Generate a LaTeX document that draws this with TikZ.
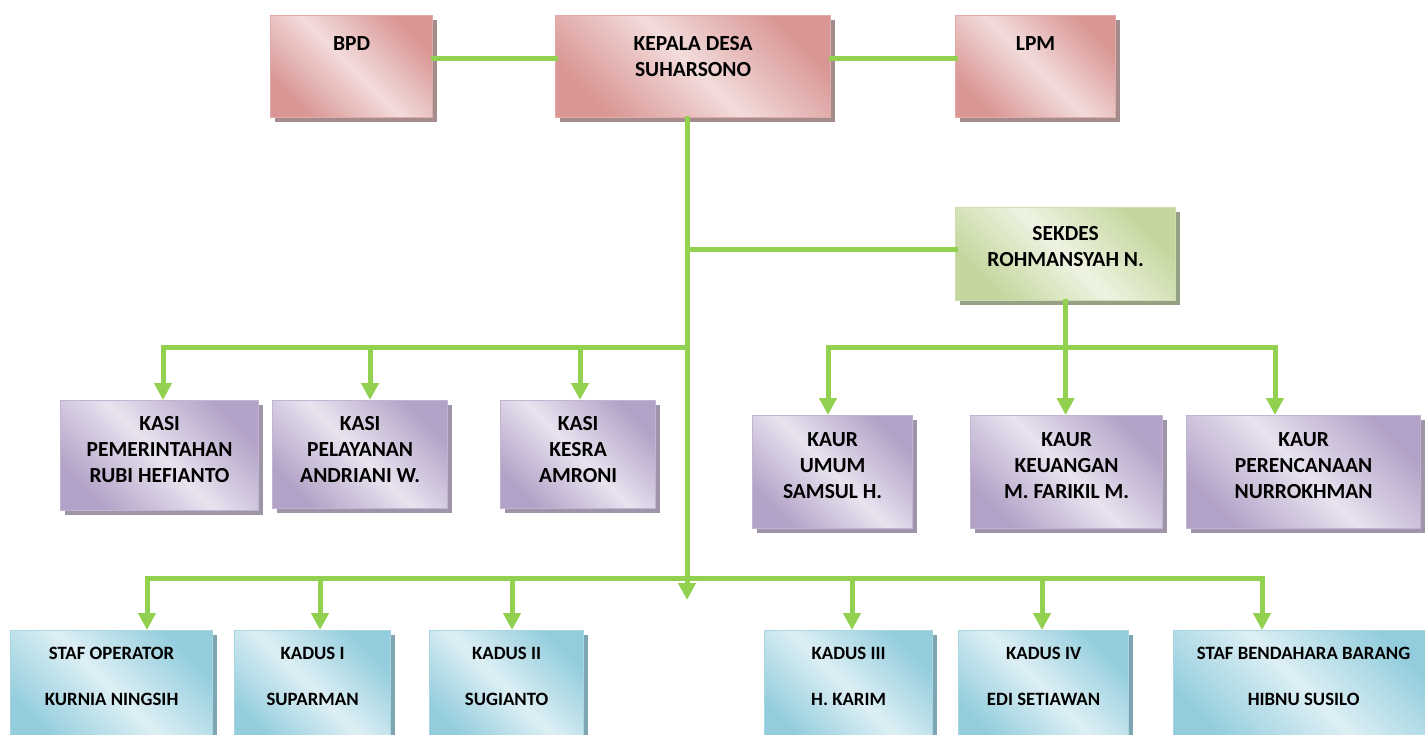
\documentclass[tikz,border=0pt]{standalone}
\usepackage{fontspec}
\setmainfont{Carlito}
\usetikzlibrary{arrows.meta,shadows}
\definecolor{reddark}{HTML}{D99694}
\definecolor{redlight}{HTML}{F2DCDB}
\definecolor{redline}{HTML}{E2AAA9}
\definecolor{redshadow}{RGB}{165,140,140}
\definecolor{purdark}{HTML}{B3A2C7}
\definecolor{purlight}{HTML}{E8E3EF}
\definecolor{purline}{HTML}{C2B5D3}
\definecolor{purshadow}{RGB}{158,150,168}
\definecolor{grndark}{HTML}{C3D69B}
\definecolor{grnlight}{HTML}{EEF3E2}
\definecolor{grnline}{HTML}{CFDDB0}
\definecolor{grnshadow}{RGB}{150,160,132}
\definecolor{bludark}{HTML}{93CDDD}
\definecolor{blulight}{HTML}{DDEFF4}
\definecolor{bluline}{HTML}{A8D6E3}
\definecolor{blushadow}{RGB}{125,165,178}
\definecolor{conncol}{HTML}{92D050}
\begin{document}
\begin{tikzpicture}[x=1pt,y=-1pt,
  box/.style={rectangle, inner sep=0pt, anchor=north west, line width=1.2pt},
  redbox/.style={box, draw=redline, top color=reddark, bottom color=reddark, middle color=redlight, shading angle=-45,
    drop shadow={shadow xshift=4pt, shadow yshift=-4pt, fill=redshadow, opacity=1}},
  purbox/.style={box, draw=purline, top color=purdark, bottom color=purdark, middle color=purlight, shading angle=-45,
    drop shadow={shadow xshift=4pt, shadow yshift=-4pt, fill=purshadow, opacity=1}},
  grnbox/.style={box, draw=grnline, top color=grndark, bottom color=grndark, middle color=grnlight, shading angle=-45,
    drop shadow={shadow xshift=4pt, shadow yshift=-4pt, fill=grnshadow, opacity=1}},
  blubox/.style={box, draw=bluline, top color=bludark, bottom color=bludark, middle color=blulight, shading angle=-45,
    drop shadow={shadow xshift=4pt, shadow yshift=-4pt, fill=blushadow, opacity=1}},
  lab/.style={anchor=north, align=center, inner sep=0pt, font=\bfseries\fontsize{21.5}{26}\selectfont},
  blab/.style={anchor=north, align=center, inner sep=0pt, font=\bfseries\fontsize{18.8}{46}\selectfont},
  conn/.style={draw=conncol, line width=5pt, line cap=rect},
  arr/.style={conn, -{Triangle[width=17pt,length=17pt]}}
]
\useasboundingbox (0,0) rectangle (1425,734);
\clip (0,0) rectangle (1425,734);
\fill[white] (0,0) rectangle (1425,734);

% top row
\node[redbox, minimum width=162, minimum height=102, label={[lab, yshift=-21pt]north:BPD}] (bpd) at (270,15) {};
\node[redbox, minimum width=275, minimum height=102, label={[lab, yshift=-21pt]north:KEPALA DESA\\SUHARSONO}] (kd) at (555,15) {};
\node[redbox, minimum width=160, minimum height=102, label={[lab, yshift=-21pt]north:LPM}] (lpm) at (955,15) {};

% sekdes
\node[grnbox, minimum width=220, minimum height=93, label={[lab, yshift=-19pt]north:SEKDES\\ROHMANSYAH N.}] (sek) at (955,207) {};

% kasi
\node[purbox, minimum width=198, minimum height=110, label={[lab, yshift=-16pt]north:KASI\\PEMERINTAHAN\\RUBI HEFIANTO}] (kasi1) at (60,400) {};
\node[purbox, minimum width=175, minimum height=108, label={[lab, yshift=-16pt]north:KASI\\PELAYANAN\\ANDRIANI W.}] (kasi2) at (272,400) {};
\node[purbox, minimum width=155, minimum height=108, label={[lab, yshift=-16pt]north:KASI\\KESRA\\AMRONI}] (kasi3) at (500,400) {};

% kaur
\node[purbox, minimum width=160, minimum height=113, label={[lab, yshift=-17pt]north:KAUR\\UMUM\\SAMSUL H.}] (kaur1) at (752,415) {};
\node[purbox, minimum width=192, minimum height=113, label={[lab, yshift=-17pt]north:KAUR\\KEUANGAN\\M. FARIKIL M.}] (kaur2) at (970,415) {};
\node[purbox, minimum width=234, minimum height=113, label={[lab, yshift=-17pt]north:KAUR\\PERENCANAAN\\NURROKHMAN}] (kaur3) at (1186,415) {};

% bottom row
\node[blubox, minimum width=202, minimum height=115, label={[blab, yshift=-17pt]north:STAF OPERATOR\\KURNIA NINGSIH}] (b1) at (10,630) {};
\node[blubox, minimum width=156, minimum height=115, label={[blab, yshift=-17pt]north:KADUS I\\SUPARMAN}] (b2) at (234,630) {};
\node[blubox, minimum width=154, minimum height=115, label={[blab, yshift=-17pt]north:KADUS II\\SUGIANTO}] (b3) at (429,630) {};
\node[blubox, minimum width=168, minimum height=115, label={[blab, yshift=-17pt]north:KADUS III\\H. KARIM}] (b4) at (764,630) {};
\node[blubox, minimum width=170, minimum height=115, label={[blab, yshift=-17pt]north:KADUS IV\\EDI SETIAWAN}] (b5) at (958,630) {};
\node[blubox, minimum width=260, minimum height=115, label={[blab, yshift=-17pt]north:STAF BENDAHARA BARANG\\HIBNU SUSILO}] (b6) at (1173,630) {};

% connectors top
\draw[conn] ([yshift=8pt]bpd.east) -- ([yshift=8pt]kd.west);
\draw[conn] ([yshift=8pt]kd.east) -- ([yshift=8pt]lpm.west);

% trunk
\coordinate (trunkend) at (687,600);
\draw[arr] (kd.south -| trunkend) -- (trunkend);
\draw[conn] ([yshift=5pt]sek.west) -- ([yshift=5pt]sek.west -| trunkend);

% kasi bus
\coordinate (kasibus) at (687,347);
\coordinate (k1) at (163,347);
\coordinate (k2) at (370,347);
\coordinate (k3) at (580,347);
\draw[arr] (kasibus) -- (k1) -- (k1 |- kasi1.north);
\draw[arr] (k2) -- (k2 |- kasi2.north);
\draw[arr] (k3) -- (k3 |- kasi3.north);

% kaur bus
\coordinate (u1) at (828,347);
\coordinate (u3) at (1275,347);
\draw[arr] (sek.south) -- (sek.south |- kaur2.north);
\draw[arr] (sek.south |- u1) -- (u1) -- (u1 |- kaur1.north);
\draw[arr] (sek.south |- u3) -- (u3) -- (u3 |- kaur3.north);

% bottom bus
\coordinate (s1) at (147,578);
\coordinate (s2) at (320,578);
\coordinate (s3) at (512,578);
\coordinate (s4) at (852,578);
\coordinate (s5) at (1042,578);
\coordinate (s6) at (1262,578);
\draw[arr] (s1 -| trunkend) -- (s1) -- (s1 |- b1.north);
\draw[arr] (s1 -| trunkend) -- (s6) -- (s6 |- b6.north);
\draw[arr] (s2) -- (s2 |- b2.north);
\draw[arr] (s3) -- (s3 |- b3.north);
\draw[arr] (s4) -- (s4 |- b4.north);
\draw[arr] (s5) -- (s5 |- b5.north);
\end{tikzpicture}
\end{document}
